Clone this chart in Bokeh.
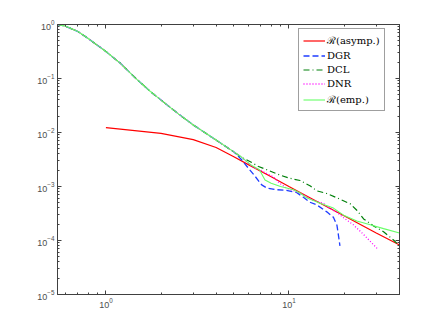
from bokeh.plotting import figure
from bokeh.models import (Range1d, LogAxis, FixedTicker, Legend, LegendItem,
                          CustomJSTickFormatter)
from bokeh.embed import file_html
from bokeh.resources import INLINE

# ---- data ----
head_x = [0.544, 0.6, 0.7, 0.8, 0.9, 1.0, 1.2, 1.45, 1.75, 2.0, 2.5, 3.0, 3.5, 4.0, 5.0]
head_y = [1.0, 0.933, 0.748, 0.550, 0.411, 0.316, 0.191, 0.102, 0.0575, 0.0398,
          0.0219, 0.0138, 0.00977, 0.00724, 0.00437]

asym_x = [1, 2, 3, 4, 5, 6, 8, 10, 15, 20, 30, 40]
asym_y = [0.01227, 0.00966, 0.00736, 0.00527, 0.00355, 0.00254, 0.00151, 0.00100,
          0.000479, 0.000288, 0.000138, 0.0000832]

dgr_x = [5.5, 6.0, 6.5, 7.1, 7.6, 8.6, 9.7, 11.0, 12.0, 13.0, 14.2, 16.1, 17.5, 18.3, 18.7, 19.0]
dgr_y = [0.00316, 0.00219, 0.00158, 0.00107, 0.000933, 0.000871, 0.000851, 0.000776,
         0.000631, 0.000513, 0.000457, 0.000339, 0.000269, 0.000191, 0.000117, 0.0000794]

dcl_x = [5.5, 6.15, 6.82, 7.58, 8.96, 10.2, 11.5, 13.1, 14.2, 16.1, 18.3, 21.6, 23.5,
         25.6, 29.0, 32.9, 37.3, 40.2]
dcl_y = [0.00347, 0.00288, 0.00234, 0.00204, 0.00162, 0.00141, 0.00129, 0.00102,
         0.000832, 0.000741, 0.000617, 0.000479, 0.000363, 0.000251, 0.000186,
         0.000145, 0.000102, 0.0000794]

dnr_x = [5.5, 6.4, 7.0, 8.2, 8.9, 9.7, 11.5, 13.6, 15.4, 16.1, 18.3, 19.9, 22.5, 25.6, 30.3]
dnr_y = [0.00351, 0.00224, 0.00200, 0.00151, 0.00115, 0.000933, 0.000759, 0.000550,
         0.000490, 0.000427, 0.000331, 0.000263, 0.000195, 0.000129, 0.0000716]

emp_x = [5.5, 6.2, 6.9, 7.4, 8.0, 9.0, 10.6, 11.5, 12.5, 14.8, 17.5, 19.9, 23.5, 27.8, 32.9, 40.2]
emp_y = [0.00351, 0.00251, 0.00204, 0.00132, 0.00115, 0.00100, 0.000871, 0.000759,
         0.000617, 0.000490, 0.000398, 0.000295, 0.000229, 0.000195, 0.000166, 0.000138]

labels = ["\u211B(asymp.)", "DGR", "DCL", "DNR", "\u211B(emp.)"]

x_major = [1, 10]
x_minor = [0.6, 0.7, 0.8, 0.9, 2, 3, 4, 5, 6, 7, 8, 9, 20, 30, 40]
y_major = [1e-5, 1e-4, 1e-3, 1e-2, 1e-1, 1]
y_minor = [m * d for d in [1e-5, 1e-4, 1e-3, 1e-2, 1e-1] for m in range(2, 10)]

AX = "#404040"

p = figure(x_axis_type="log", y_axis_type="log",
           x_range=Range1d(0.5438, 40.2), y_range=Range1d(1e-5, 1),
           frame_width=342, frame_height=270,
           min_border_left=57, min_border_right=34, min_border_top=24, min_border_bottom=29,
           output_backend="svg", toolbar_location=None,
           background_fill_color="white", border_fill_color="white")
p.xgrid.visible = False
p.ygrid.visible = False
p.outline_line_color = AX
p.outline_line_width = 1

r_asym = p.line(asym_x, asym_y, line_color="#ff0000", line_width=1.2)
r_dgr = p.line(head_x + dgr_x, head_y + dgr_y, line_color="#1f3dff", line_width=1.3,
               line_dash="6 3")
r_dcl = p.line(head_x + dcl_x, head_y + dcl_y, line_color="#00800a", line_width=1.2,
               line_dash="6 3 1 3")
r_dnr = p.line(head_x + dnr_x, head_y + dnr_y, line_color="#ff00ff", line_width=1.3,
               line_dash="1 2")
r_emp = p.line(head_x + emp_x, head_y + emp_y, line_color="#66ff66", line_width=1.1)


def style(ax):
    ax.axis_line_color = AX
    ax.major_tick_line_color = AX
    ax.minor_tick_line_color = AX
    ax.major_tick_in = 4
    ax.major_tick_out = 0
    ax.minor_tick_in = 2
    ax.minor_tick_out = 0
    ax.major_label_text_font = "Liberation Sans"
    ax.major_label_text_font_size = "9px"
    ax.major_label_text_color = "#4d4d4d"
    ax.major_label_standoff = 3


p.xaxis.ticker = FixedTicker(ticks=x_major, minor_ticks=x_minor)
p.yaxis.ticker = FixedTicker(ticks=y_major, minor_ticks=y_minor)
for ax in p.xaxis + p.yaxis:
    style(ax)

blank = CustomJSTickFormatter(code="return ''")
right = LogAxis(ticker=FixedTicker(ticks=y_major, minor_ticks=y_minor), formatter=blank)
above = LogAxis(ticker=FixedTicker(ticks=x_major, minor_ticks=x_minor), formatter=blank)
style(right)
style(above)
p.add_layout(right, "right")
p.add_layout(above, "above")

items = [LegendItem(label=lab, renderers=[r]) for lab, r in
         zip(labels, [r_asym, r_dgr, r_dcl, r_dnr, r_emp])]
legend = Legend(items=items, location=(241, 183))
legend.label_text_font = "DejaVu Serif"
legend.label_text_font_size = "10px"
legend.label_text_color = "black"
legend.border_line_color = AX
legend.border_line_width = 1
legend.background_fill_color = "white"
legend.background_fill_alpha = 1
legend.glyph_width = 22
legend.glyph_height = 11
legend.label_height = 11
legend.label_standoff = 2
legend.spacing = 3
legend.padding = 4
legend.margin = 0
p.add_layout(legend, "center")

open("out.html", "w").write(file_html(p, INLINE))
